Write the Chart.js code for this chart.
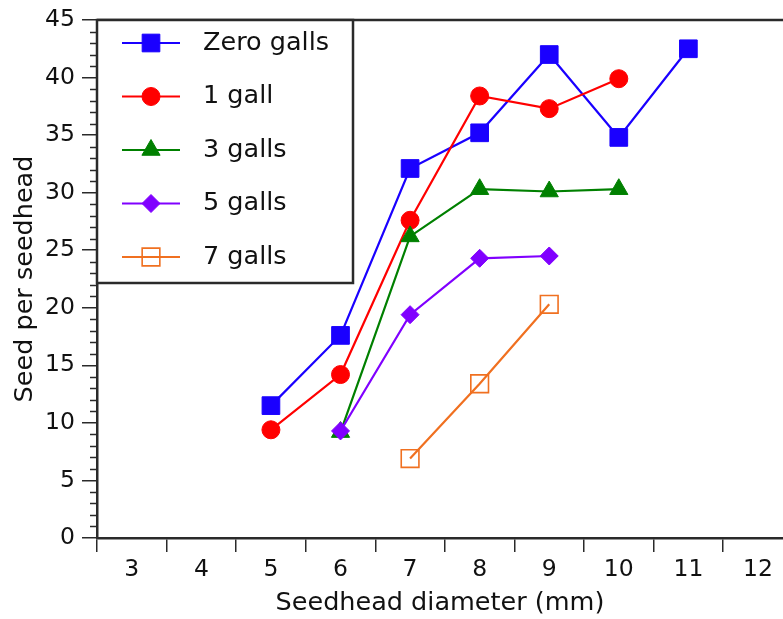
<!DOCTYPE html>
<html>
<head>
<meta charset="utf-8">
<script src="https://cdn.jsdelivr.net/npm/chart.js@4.4.1/dist/chart.umd.min.js"></script>
<style>
  html, body { margin:0; padding:0; background:#fff; }
</style>
</head>
<body>
<canvas id="chart" width="783" height="619"></canvas>
<script>
/* Seed per seedhead vs. seedhead diameter, by number of galls */

// x categories: seedhead diameter (mm)
const diameters = [3, 4, 5, 6, 7, 8, 9, 10, 11, 12];
const seriesNames = ["Zero galls", "1 gall", "3 galls", "5 galls", "7 galls"];

// seed per seedhead (null = no data at that diameter)
const zeroGalls  = [null, null, 11.5, 17.6, 32.1, 35.2, 42.0, 34.8, 42.5, null];
const oneGall    = [null, null,  9.4, 14.2, 27.6, 38.4, 37.3, 39.9, null, null];
const threeGalls = [null, null, null,  9.2, 26.2, 30.3, 30.1, 30.3, null, null];
const fiveGalls  = [null, null, null,  9.3, 19.4, 24.3, 24.5, null, null, null];
const sevenGalls = [null, null, null, null,  6.9, 13.4, 20.3, null, null, null];
const seriesValues = [zeroGalls, oneGall, threeGalls, fiveGalls, sevenGalls];

const colors      = ["#1a00ff", "#ff0000", "#008000", "#8000ff", "#f07020"];
const pointStyles = ["rect", "circle", "triangle", "rectRot", "rect"];
const radii       = [12.5, 9, 10.5, 9, 12.5];
const FONT = "'DejaVu Sans', 'Liberation Sans', Arial, sans-serif";

const datasets = seriesValues.map((vals, i) => ({
  label: seriesNames[i],
  data: diameters.map((d, k) => ({x: d, y: vals[k]})).filter(p => p.y !== null),
  borderColor: colors[i],
  backgroundColor: i === 4 ? "rgba(0,0,0,0)" : colors[i],
  borderWidth: 2.2,
  pointStyle: pointStyles[i],
  pointRadius: radii[i],
  pointBorderWidth: i === 4 ? 1.6 : 1,
  pointBackgroundColor: i === 4 ? "rgba(0,0,0,0)" : colors[i],
  pointBorderColor: colors[i],
  tension: 0,
  order: 5 - i,      // later series drawn on top (diamond over triangle at 6 mm)
}));

// framed legend box, top frame line and minor y ticks
const boxLegend = {
  id: "boxLegend",
  afterDraw(chart) {
    const {ctx, chartArea: a} = chart;
    const ys = chart.scales.y;
    ctx.save();
    ctx.strokeStyle = "#2a2a2a";
    ctx.lineWidth = 2.5;
    ctx.beginPath();
    ctx.moveTo(a.left, a.top); ctx.lineTo(a.right, a.top);
    ctx.stroke();

    ctx.lineWidth = 1.5;
    for (let v = 0; v <= 45; v++) {
      if (v % 5 === 0) continue;
      const y = Math.round(ys.getPixelForValue(v)) + 0.5;
      ctx.beginPath();
      ctx.moveTo(a.left - 7, y); ctx.lineTo(a.left, y);
      ctx.stroke();
    }

    const x0 = a.left, y0 = a.top, w = 256, h = 263;
    ctx.fillStyle = "#fff";
    ctx.fillRect(x0, y0, w, h);
    ctx.lineWidth = 2.5;
    ctx.strokeRect(x0, y0, w, h);

    ctx.font = "25.5px " + FONT;
    ctx.textBaseline = "middle";
    chart.data.datasets.forEach((ds, i) => {
      const y = y0 + 23 + i * 53.5;
      ctx.strokeStyle = ds.borderColor;
      ctx.lineWidth = 2.2;
      ctx.beginPath();
      ctx.moveTo(x0 + 25, y); ctx.lineTo(x0 + 83, y);
      ctx.stroke();
      ctx.fillStyle = ds.pointBackgroundColor;
      ctx.lineWidth = ds.pointBorderWidth;
      Chart.helpers.drawPoint(ctx, {pointStyle: ds.pointStyle, radius: ds.pointRadius,
        borderWidth: ds.pointBorderWidth, rotation: 0}, x0 + 54, y);
      ctx.fillStyle = "#111";
      ctx.fillText(ds.label, x0 + 106, y);
    });
    ctx.restore();
  }
};

new Chart(document.getElementById("chart"), {
  type: "line",
  data: { datasets },
  plugins: [boxLegend],
  options: {
    responsive: false,
    devicePixelRatio: 1,
    animation: false,
    layout: { autoPadding: false, padding: {left: 0, top: 20, right: 0, bottom: 0} },
    plugins: { legend: {display: false}, tooltip: {enabled: false} },
    scales: {
      x: {
        type: "linear",
        min: 2.5, max: 12.36,
        afterFit: s => { s.height = 81; s.paddingLeft = 0; s.paddingRight = 0; },
        border: {color: "#2a2a2a", width: 2.5},
        grid: {offset: true, drawOnChartArea: false, color: "#2a2a2a", lineWidth: 1.5, tickLength: 14},
        ticks: {stepSize: 1, includeBounds: false, autoSkip: false, maxRotation: 0,
                color: "#111", padding: 4, font: {family: FONT, size: 23.5}},
        title: {display: true, text: "Seedhead diameter (mm)", color: "#111",
                padding: {top: 0, bottom: 0}, font: {family: FONT, size: 25.5}}
      },
      y: {
        min: 0, max: 45,
        afterFit: s => { s.width = 97; s.paddingTop = 0; s.paddingBottom = 0; },
        border: {color: "#2a2a2a", width: 2.5},
        grid: {drawOnChartArea: false, color: "#2a2a2a", lineWidth: 1.5, tickLength: 15},
        ticks: {stepSize: 5, color: "#111", padding: 7, font: {family: FONT, size: 23.5}},
        title: {display: true, text: "Seed per seedhead", color: "#111",
                padding: {top: 10, bottom: 0}, font: {family: FONT, size: 25.5}}
      }
    }
  }
});
</script>
</body>
</html>
